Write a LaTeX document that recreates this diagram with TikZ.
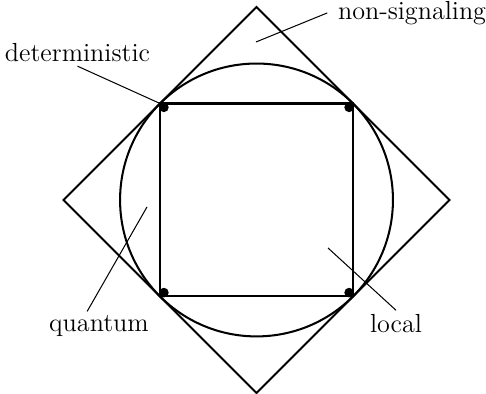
\documentclass[tikz,border=0pt]{standalone}
\usetikzlibrary{positioning}

\begin{document}
\begin{tikzpicture}[
  edge/.style={line width=1.2pt, line join=miter},
  leader/.style={line width=0.6pt},
  label/.style={font=\Large, scale=1.07, inner sep=2pt},
  vertex/.style={circle, fill=black, inner sep=0pt, minimum size=0.2cm}
]
\useasboundingbox (-5.317,-4.021) rectangle (4.757,4.145);
% corners of the local polytope
\coordinate (nw) at (-2,2);
\coordinate (ne) at (2,2);
\coordinate (se) at (2,-2);
\coordinate (sw) at (-2,-2);
% corners of the non-signaling polytope
\coordinate (top) at (0,4);
\coordinate (right) at (4,0);
\coordinate (bottom) at (0,-4);
\coordinate (left) at (-4,0);

\draw[edge] (top) -- (right) -- (bottom) -- (left) -- cycle;
\draw[edge] (0,0) circle (2.828);
\draw[edge] (nw) -- (ne) -- (se) -- (sw) -- cycle;

\node[vertex] (v1) at (-1.92,1.92) {};
\node[vertex] (v2) at (1.92,1.92) {};
\node[vertex] (v3) at (1.92,-1.92) {};
\node[vertex] (v4) at (-1.92,-1.92) {};

\node[label] (det) at (-3.711,3.047) {deterministic};
\node[label] (ns) at (3.224,3.877) {non-signaling};
\node[label] (qu) at (-3.265,-2.612) {quantum};
\node[label] (loc) at (2.892,-2.560) {local};

\coordinate (nsin) at (-0.01,3.275);
\coordinate (quin) at (-2.270,-0.145);
\coordinate (locin) at (1.482,-0.995);

\draw[leader] (det.south) -- (nw);
\draw[leader] ([xshift=-4pt]ns.west) -- (nsin);
\draw[leader] ([xshift=-7pt]qu.north) -- (quin);
\draw[leader] (loc.north) -- (locin);
\end{tikzpicture}
\end{document}
